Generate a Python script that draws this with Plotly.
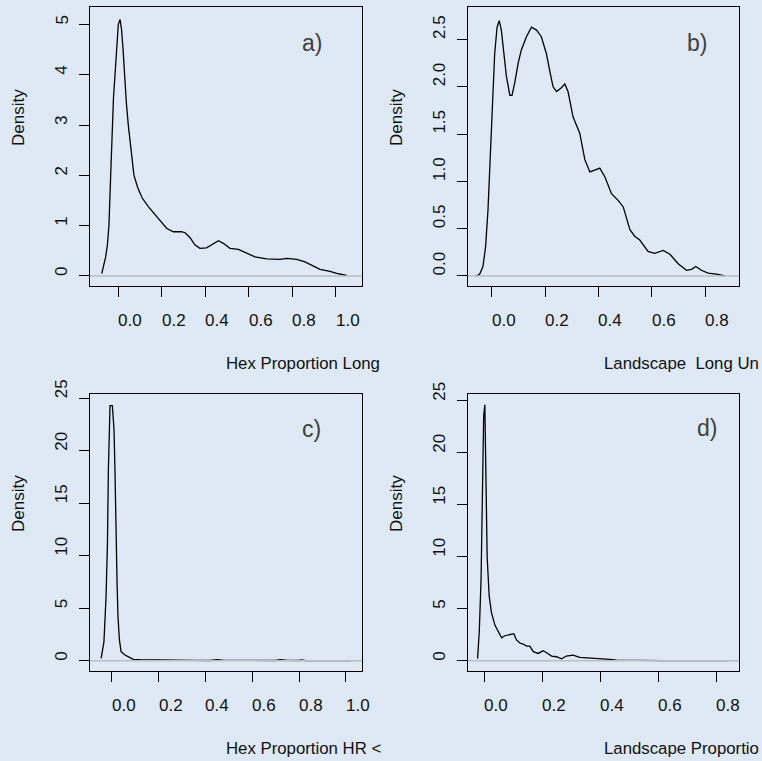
import plotly.graph_objects as go

W, H = 762, 761
BG = "#dfe9f5"
FONT = "Liberation Sans, Arial, sans-serif"

# ---- data ----
a_x = [-0.076, -0.058, -0.050, -0.043, -0.035, -0.028, -0.022, -0.015, -0.008, 0.000, 0.008, 0.015,
       0.022, 0.028, 0.037, 0.046, 0.058, 0.072, 0.090, 0.110, 0.138, 0.169, 0.195, 0.222, 0.253,
       0.290, 0.307, 0.330, 0.352, 0.375, 0.406, 0.437, 0.460, 0.483, 0.513, 0.552, 0.590, 0.628,
       0.682, 0.743, 0.774, 0.820, 0.858, 0.897, 0.927, 0.973, 1.004, 1.050]
a_y = [0.05, 0.38, 0.62, 1.00, 2.00, 3.00, 3.55, 4.00, 4.60, 5.00, 5.10, 4.90,
       4.50, 4.00, 3.45, 3.00, 2.50, 2.00, 1.75, 1.55, 1.38, 1.22, 1.08, 0.95, 0.88,
       0.88, 0.86, 0.76, 0.62, 0.55, 0.56, 0.65, 0.70, 0.65, 0.55, 0.53, 0.45, 0.38,
       0.34, 0.33, 0.35, 0.33, 0.28, 0.19, 0.13, 0.09, 0.05, 0.01]

b_x = [-0.058, -0.045, -0.033, -0.023, -0.014, -0.005, 0.003, 0.011, 0.020, 0.028, 0.036, 0.045,
       0.055, 0.068, 0.076, 0.086, 0.099, 0.111, 0.130, 0.149, 0.168, 0.186, 0.205, 0.218, 0.230,
       0.243, 0.261, 0.274, 0.286, 0.305, 0.330, 0.349, 0.368, 0.386, 0.405, 0.424, 0.449, 0.474,
       0.493, 0.518, 0.536, 0.555, 0.586, 0.611, 0.643, 0.668, 0.699, 0.730, 0.749, 0.765, 0.786,
       0.811, 0.843, 0.874]
b_y = [0.00, 0.02, 0.10, 0.31, 0.70, 1.33, 1.86, 2.35, 2.63, 2.70, 2.60, 2.35,
       2.11, 1.91, 1.91, 2.04, 2.25, 2.39, 2.53, 2.63, 2.60, 2.53, 2.35, 2.16, 2.00,
       1.95, 1.99, 2.03, 1.95, 1.68, 1.51, 1.23, 1.10, 1.12, 1.14, 1.05, 0.87, 0.80,
       0.73, 0.49, 0.42, 0.38, 0.26, 0.24, 0.27, 0.23, 0.13, 0.06, 0.07, 0.10, 0.06,
       0.03, 0.02, 0.00]

c_x = [-0.045, -0.033, -0.024, -0.018, -0.014, -0.007, 0.003, 0.010, 0.014, 0.018, 0.023, 0.027,
       0.033, 0.040, 0.057, 0.078, 0.092, 0.12, 0.20, 0.29, 0.31, 0.33, 0.35, 0.42, 0.45, 0.48,
       0.55, 0.70, 0.72, 0.75, 0.80, 0.81, 0.83, 0.90, 1.02]
c_y = [0.22, 1.8, 6.1, 11.2, 18.2, 24.3, 24.3, 22.0, 18.2, 12.4, 7.4, 4.2,
       2.0, 0.86, 0.54, 0.29, 0.13, 0.10, 0.10, 0.08, 0.03, 0.10, 0.03, 0.02, 0.10, 0.03,
       0.01, 0.02, 0.10, 0.03, 0.02, 0.08, 0.01, 0.00, 0.00]

d_x = [-0.023, -0.017, -0.011, -0.007, -0.002, 0.002, 0.006, 0.010, 0.017, 0.025, 0.037, 0.048,
       0.060, 0.071, 0.083, 0.094, 0.102, 0.111, 0.123, 0.134, 0.146, 0.157, 0.169, 0.186, 0.203,
       0.215, 0.232, 0.249, 0.266, 0.283, 0.306, 0.329, 0.352, 0.387, 0.410, 0.433, 0.456, 0.500,
       0.513, 0.530, 0.547, 0.616, 0.840]
d_y = [0.2, 2.9, 7.8, 15.8, 23.5, 24.6, 19.0, 10.0, 6.2, 4.6, 3.4, 2.8,
       2.2, 2.4, 2.5, 2.6, 2.6, 2.0, 1.7, 1.6, 1.4, 1.4, 0.87, 0.70, 0.96,
       0.77, 0.45, 0.38, 0.19, 0.45, 0.54, 0.32, 0.29, 0.26, 0.19, 0.13, 0.06, 0.04,
       0.10, 0.04, 0.08, 0.00, 0.00]

a_xticks = [0.0, 0.2, 0.4, 0.6, 0.8, 1.0]
a_xlabels = ["0.0", "0.2", "0.4", "0.6", "0.8", "1.0"]
a_yticks = [0, 1, 2, 3, 4, 5]
a_ylabels = ["0", "1", "2", "3", "4", "5"]

b_xticks = [0.0, 0.2, 0.4, 0.6, 0.8]
b_xlabels = ["0.0", "0.2", "0.4", "0.6", "0.8"]
b_yticks = [0.0, 0.5, 1.0, 1.5, 2.0, 2.5]
b_ylabels = ["0.0", "0.5", "1.0", "1.5", "2.0", "2.5"]

c_xticks = [0.0, 0.2, 0.4, 0.6, 0.8, 1.0]
c_xlabels = ["0.0", "0.2", "0.4", "0.6", "0.8", "1.0"]
c_yticks = [0, 5, 10, 15, 20, 25]
c_ylabels = ["0", "5", "10", "15", "20", "25"]

d_xticks = [0.0, 0.2, 0.4, 0.6, 0.8]
d_xlabels = ["0.0", "0.2", "0.4", "0.6", "0.8"]
d_yticks = [0, 5, 10, 15, 20, 25]
d_ylabels = ["0", "5", "10", "15", "20", "25"]

titles = ["Hex Proportion Long", "Landscape  Long Un", "Hex Proportion HR <", "Landscape Proportio"]
tags = ["a)", "b)", "c)", "d)"]

panels = [
    dict(x=a_x, y=a_y, xt=a_xticks, xl=a_xlabels, yt=a_yticks, yl=a_ylabels,
         box=(90, 362, 7, 286), xr=(-0.130, 1.120), yr=(-0.199, 5.348), tag=(300, 43)),
    dict(x=b_x, y=b_y, xt=b_xticks, xl=b_xlabels, yt=b_yticks, yl=b_ylabels,
         box=(468, 739, 7, 286), xr=(-0.089, 0.927), yr=(-0.106, 2.844), tag=(685, 43)),
    dict(x=c_x, y=c_y, xt=c_xticks, xl=c_xlabels, yt=c_yticks, yl=c_ylabels,
         box=(90, 362, 394, 671), xr=(-0.0925, 1.0686), yr=(-0.98, 25.4), tag=(300, 429)),
    dict(x=d_x, y=d_y, xt=d_xticks, xl=d_xlabels, yt=d_yticks, yl=d_ylabels,
         box=(468, 739, 394, 671), xr=(-0.056, 0.878), yr=(-0.99, 25.64), tag=(695, 428)),
]

fig = go.Figure()
layout = {}
annotations = []
shapes = []

for i, p in enumerate(panels):
    s = "" if i == 0 else str(i + 1)
    l, r, t, b = p["box"]
    fig.add_trace(go.Scatter(x=p["x"], y=p["y"], mode="lines",
                             line=dict(color="black", width=1.3),
                             xaxis="x" + s, yaxis="y" + s, showlegend=False,
                             hoverinfo="skip"))
    common = dict(showline=True, mirror=True, linecolor="black", linewidth=1.3,
                  ticks="outside", ticklen=10, tickwidth=1.3, tickcolor="black",
                  showticklabels=False, showgrid=False, zeroline=False, fixedrange=True)
    layout["xaxis" + s] = dict(domain=[l / W, r / W], range=list(p["xr"]), anchor="y" + s,
                               tickvals=p["xt"], **common)
    layout["yaxis" + s] = dict(domain=[1 - b / H, 1 - t / H], range=list(p["yr"]), anchor="x" + s,
                               tickvals=p["yt"], **common)
    # zero line (grey)
    shapes.append(dict(type="line", xref="x" + s + " domain", x0=0, x1=1,
                       yref="y" + s, y0=0, y1=0, line=dict(color="#bebebe", width=1.5),
                       layer="above"))
    # x tick labels (left-aligned at tick)
    for v, lab in zip(p["xt"], p["xl"]):
        annotations.append(dict(x=v, xref="x" + s, y=1 - (b + 34.5) / H, yref="paper",
                                text=lab, showarrow=False, xanchor="left", yanchor="middle",
                                xshift=-2, font=dict(family=FONT, size=17, color="#111")))
    # y tick labels (rotated, starting at tick)
    for v, lab in zip(p["yt"], p["yl"]):
        annotations.append(dict(x=(l - 28.5) / W, xref="paper", y=v, yref="y" + s,
                                text=lab, showarrow=False, textangle=-90,
                                xanchor="center", yanchor="bottom", yshift=-2,
                                font=dict(family=FONT, size=17, color="#111")))
    # y title
    annotations.append(dict(x=(l - 72) / W, xref="paper", y=1 - ((t + b) / 2) / H, yref="paper",
                            text="Density", showarrow=False, textangle=-90,
                            xanchor="center", yanchor="bottom", yshift=-2,
                            font=dict(family=FONT, size=17, color="#111")))
    # x title
    annotations.append(dict(x=((l + r) / 2) / W, xref="paper", y=1 - (b + 77.5) / H, yref="paper",
                            text=titles[i], showarrow=False, xanchor="left", yanchor="middle",
                            xshift=-2, font=dict(family=FONT, size=16.8, color="#111")))
    # panel tag
    annotations.append(dict(x=p["tag"][0] / W, xref="paper", y=1 - p["tag"][1] / H, yref="paper",
                            text=tags[i], showarrow=False, xanchor="left", yanchor="middle",
                            font=dict(family=FONT, size=23, color="#404040")))

fig.update_layout(**layout)
fig.update_layout(width=W, height=H, autosize=False,
                  margin=dict(l=0, r=0, t=0, b=0),
                  paper_bgcolor=BG, plot_bgcolor=BG,
                  annotations=annotations, shapes=shapes,
                  showlegend=False)

fig.write_html("out.html", config={"displayModeBar": False},
               post_script="document.body.style.margin='0';document.body.style.background='" + BG + "';")
